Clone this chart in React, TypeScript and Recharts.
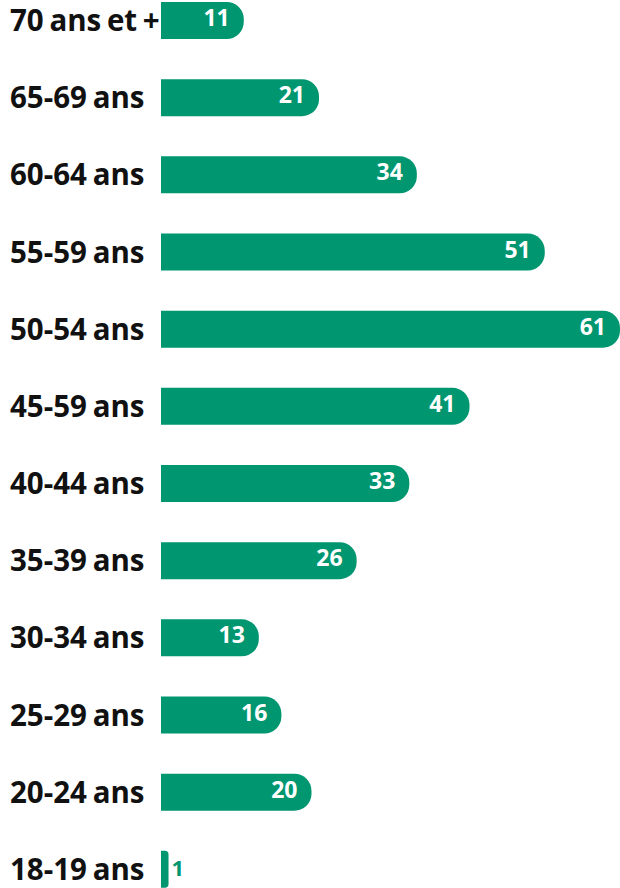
import React from "react";
import { BarChart, Bar, XAxis, YAxis, LabelList } from "recharts";

const categories = [
  "70 ans et +",
  "65-69 ans",
  "60-64 ans",
  "55-59 ans",
  "50-54 ans",
  "45-59 ans",
  "40-44 ans",
  "35-39 ans",
  "30-34 ans",
  "25-29 ans",
  "20-24 ans",
  "18-19 ans",
];
const values = [11, 21, 34, 51, 61, 41, 33, 26, 13, 16, 20, 1];

const data = categories.map((c, i) => ({ name: c, value: values[i] }));

const GREEN = "#009670";
const FONT = "'Open Sans', sans-serif";

const ValueLabel = (props: any) => {
  const { x, y, width, height, value } = props;
  const cy = y + height / 2;
  if (width < 30) {
    return (
      <text x={x + width + 3} y={cy} dy={7} textAnchor="start" fill={GREEN}
        fontFamily={FONT} fontWeight={700} fontSize={22}>{value}</text>
    );
  }
  return (
    <text x={x + width - 14} y={cy} dy={5.5} textAnchor="end" fill="#fff"
      fontFamily={FONT} fontWeight={700} fontSize={23}>{value}</text>
  );
};

const YTick = (props: any) => {
  const { y, payload } = props;
  return (
    <text x={10} y={y} dy={10.5} textAnchor="start" fill="#111"
      fontFamily={FONT} fontWeight={700} fontSize={29.5}
      style={{ wordSpacing: "-2px" }}>{payload.value}</text>
  );
};

export default function App() {
  return (
    <div style={{ position: "absolute", left: 0, top: -18 }}>
      <BarChart width={620} height={926} data={data} layout="vertical"
        margin={{ top: 0, right: 0, bottom: 0, left: 0 }} barSize={37}>
        <XAxis type="number" domain={[0, 61]} hide />
        <YAxis type="category" dataKey="name" width={161} axisLine={false}
          tickLine={false} tick={<YTick />} interval={0} />
        <Bar dataKey="value" fill={GREEN} radius={[0, 17, 17, 0]} isAnimationActive={false}>
          <LabelList dataKey="value" content={<ValueLabel />} />
        </Bar>
      </BarChart>
    </div>
  );
}
